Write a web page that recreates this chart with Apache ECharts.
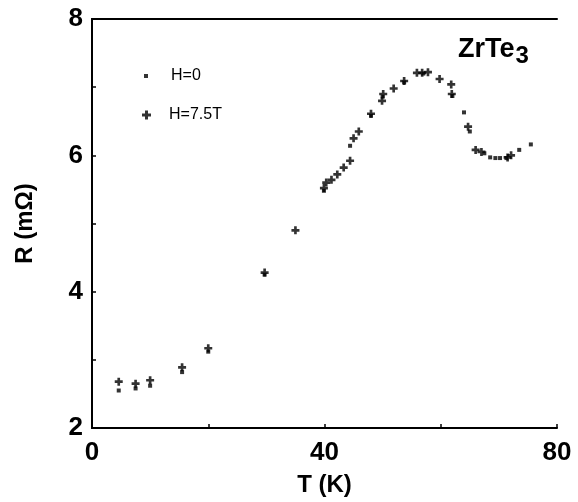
<!DOCTYPE html>
<html>
<head>
<meta charset="utf-8">
<script src="https://cdn.jsdelivr.net/npm/echarts@6/dist/echarts.min.js"></script>
<style>
  html, body { margin: 0; padding: 0; background: #fff; }
  #chart { width: 578px; height: 502px; }
</style>
</head>
<body>
<div id="chart"></div>
<script>
// T (K), R (mOhm)
const zeroField = [
  [4.6, 2.55], [7.5, 2.58], [10.0, 2.62], [15.5, 2.82], [20.0, 3.12],
  [29.7, 4.25], [39.9, 5.48], [44.4, 6.14], [48.0, 6.58], [50.0, 6.86],
  [53.7, 7.07], [57.0, 7.20], [62.0, 6.87], [64.0, 6.63], [65.0, 6.35],
  [67.5, 6.03], [68.5, 5.97], [69.4, 5.96], [70.2, 5.96], [71.3, 5.96],
  [73.5, 6.08], [75.5, 6.16]
];
const highField = [
  [4.6, 2.68], [7.5, 2.65], [10.0, 2.70], [15.5, 2.89], [20.0, 3.17],
  [29.7, 4.28], [35.0, 4.90], [39.9, 5.52], [40.3, 5.60], [41.2, 5.64],
  [42.2, 5.72], [43.3, 5.82], [44.4, 5.92], [45.0, 6.25], [45.9, 6.35],
  [48.0, 6.61], [49.9, 6.80], [50.1, 6.90], [51.9, 6.98], [53.7, 7.09],
  [55.9, 7.21], [56.8, 7.21], [57.8, 7.22], [59.8, 7.12], [61.8, 7.04],
  [61.9, 6.90], [64.7, 6.42], [66.0, 6.08], [67.0, 6.05], [71.5, 5.97],
  [72.1, 6.00]
];
const xLabels = [0, 40, 80];
const yLabels = [2, 4, 6, 8];

const plus = 'path://M2,0h2v2h2v2h-2v2h-2v-2h-2v-2h2z';
const font = 'Liberation Sans, Arial, sans-serif';
const black = { color: '#000', width: 2 };

const legendText = (pad) => ({ fontFamily: font, fontSize: 16, color: '#000', padding: [0, 0, 0, pad] });

const chart = echarts.init(document.getElementById('chart'));
chart.setOption({
  animation: false,
  grid: { left: 92, right: 21, top: 19, bottom: 69 },
  legend: [
    { left: 139, top: 63, itemWidth: 4, itemHeight: 4, data: ['H=0'], textStyle: legendText(18) },
    { left: 137, top: 102, itemWidth: 9, itemHeight: 9, data: ['H=7.5T'], textStyle: legendText(13) }
  ],
  xAxis: [{
    type: 'value', min: 0, max: 80, interval: 20,
    name: 'T (K)', nameLocation: 'middle', nameGap: 45,
    nameTextStyle: { fontFamily: font, fontWeight: 'bold', fontSize: 24, color: '#000' },
    axisLine: { lineStyle: black },
    axisTick: { inside: true, length: 4, lineStyle: { color: '#000', width: 1.5 } },
    splitLine: { show: false },
    axisLabel: {
      margin: 12, fontFamily: font, fontWeight: 'bold', fontSize: 26, color: '#000',
      formatter: v => xLabels.includes(v) ? String(v) : ''
    }
  }, {
    type: 'value', min: 0, max: 80, position: 'top',
    axisLine: { lineStyle: black }, axisTick: { show: false },
    axisLabel: { show: false }, splitLine: { show: false }
  }],
  yAxis: [{
    type: 'value', min: 2, max: 8, interval: 1,
    name: 'R (mΩ)', nameLocation: 'middle', nameGap: 55, nameRotate: 90,
    nameTextStyle: { fontFamily: font, fontWeight: 'bold', fontSize: 24, color: '#000' },
    axisLine: { lineStyle: black },
    axisTick: { inside: true, length: 4, lineStyle: { color: '#000', width: 1.5 } },
    splitLine: { show: false },
    axisLabel: {
      margin: 9, fontFamily: font, fontWeight: 'bold', fontSize: 26, color: '#000',
      formatter: v => yLabels.includes(v) ? String(v) : ''
    }
  }, {
    type: 'value', min: 2, max: 8, position: 'right',
    axisLine: { show: true, lineStyle: black }, axisTick: { show: false },
    axisLabel: { show: false }, splitLine: { show: false }
  }],
  graphic: [{
    type: 'text', left: 458, top: 36,
    style: {
      text: '{a|ZrTe}{b|3}',
      rich: {
        a: { fontFamily: font, fontWeight: 'bold', fontSize: 27, fill: '#000' },
        b: { fontFamily: font, fontWeight: 'bold', fontSize: 24, fill: '#000', padding: [14, 0, 0, 1] }
      }
    }
  }],
  series: [
    {
      name: 'H=0', type: 'scatter', data: zeroField,
      symbol: 'rect', symbolSize: 4,
      itemStyle: { color: '#000' }
    },
    {
      name: 'H=7.5T', type: 'scatter', data: highField,
      symbol: plus, symbolSize: 8,
      itemStyle: { color: '#000' }
    }
  ]
});
</script>
</body>
</html>
